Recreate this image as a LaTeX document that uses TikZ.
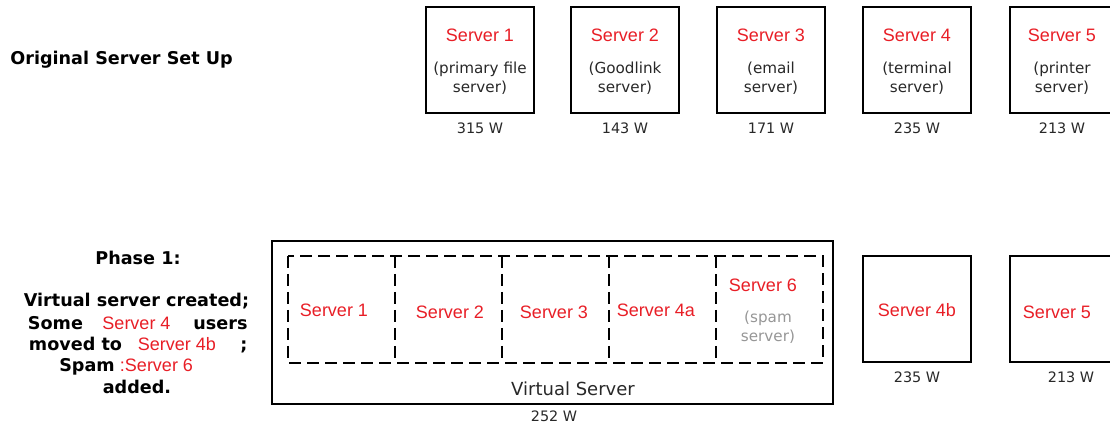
\documentclass[tikz,border=0pt]{standalone}
\usepackage{fontspec}
\newfontfamily\arialfont{Liberation Sans}
\newfontfamily\verdfont{DejaVu Sans}
\definecolor{srvred}{RGB}{232,30,38}
\definecolor{spamgray}{RGB}{150,150,150}
\definecolor{txtgray}{RGB}{40,40,40}
\tikzset{
  srvbox/.style={draw, line width=1pt, minimum width=54pt, minimum height=53pt, inner sep=0pt},
  srvname/.style={inner sep=0pt, text=srvred, font=\arialfont\fontsize{9}{10}\selectfont},
  srvnote/.style={inner sep=0pt, align=center, text=txtgray, font=\verdfont\fontsize{7.6}{9.6}\selectfont},
  watt/.style={inner sep=0pt, text=txtgray, font=\verdfont\fontsize{7.2}{9}\selectfont},
  heading/.style={inner sep=0pt, font=\verdfont\bfseries\fontsize{8.8}{10}\selectfont},
  vmline/.style={line width=1pt, dash pattern=on 6pt off 3pt}
}
\begin{document}
\begin{tikzpicture}[x=0.5pt, y=-0.5pt]
    \useasboundingbox (0,0) rectangle (1110,427);
    % original set up
    \node[heading, anchor=west] (orig) at (10,60) {Original Server Set Up};
    \foreach \n/\x/\note/\w in {1/480/{(primary file\\server)}/315,
                               2/625/{(Goodlink\\server)}/143,
                               3/771/{(email\\server)}/171,
                               4/917/{(terminal\\server)}/235,
                               5/1062/{(printer\\server)}/213} {
      \node[srvname] (s\n name) at (\x,35) {Server \n};
      \node[srvnote] (s\n note) at (\x,78) {\note};
      \node[watt] (s\n w) at (\x,128) {\w~W};
    }
    \foreach \n/\x in {1/480,2/625,3/771,4/917,5/1064}
      \node[srvbox] (s\n) at (\x,60) {};
    % phase 1
    \node[heading, anchor=base] (ph) at (138,264.5) {Phase 1:};
    \node[heading, anchor=base] (ln1) at (136.5,306.5) {Virtual server created;};
    \node[heading, anchor=base] (ln2a) at (55.5,329.5) {Some};
    \node[srvname, anchor=base] (ln2b) at (136.5,329.5) {Server 4};
    \node[heading, anchor=base] (ln2c) at (220.5,329.5) {users};
    \node[heading, anchor=base] (ln3a) at (75.5,350.5) {moved to};
    \node[srvname, anchor=base] (ln3b) at (177,350.5) {Server 4b};
    \node[heading, anchor=base] (ln3c) at (244,350.5) {;};
    \node[heading, anchor=base] (ln4a) at (87,371.5) {Spam};
    \node[srvname, anchor=base] (ln4b) at (156.5,371.5) {:Server 6};
    \node[heading, anchor=base] (ln5) at (137,393.5) {added.};
    % virtual server
    \node[draw, line width=1pt, minimum width=280.5pt, minimum height=81.5pt, inner sep=0pt] (vs) at (552.5,322.5) {};
    \draw[vmline] (288,256) rectangle (823,363);
    \foreach \x in {395,502,609,716}
      \draw[vmline] (\x,256) -- (\x,363);
    \node[srvname] (v1) at (334,310) {Server 1};
    \node[srvname] (v2) at (450,312) {Server 2};
    \node[srvname] (v3) at (554,312) {Server 3};
    \node[srvname] (v4) at (656,310) {Server 4a};
    \node[srvname] (v6) at (763,285) {Server 6};
    \node[srvnote, text=spamgray] (v6note) at (768,327) {(spam\\server)};
    \node[srvnote] (vsname) at (573,389) {\fontsize{9}{10}\selectfont Virtual Server};
    \node[watt] (vsw) at (554,416) {252~W};
    % remaining servers
    \node[srvbox] (s4b) at (916.5,309) {};
    \node[srvname] (s4bname) at (917,310) {Server 4b};
    \node[watt] (s4bw) at (917,377) {235~W};
    \node[srvbox] (s5b) at (1064,309) {};
    \node[srvname] (s5bname) at (1057,312) {Server 5};
    \node[watt] (s5bw) at (1071,377) {213~W};
\end{tikzpicture}
\end{document}
